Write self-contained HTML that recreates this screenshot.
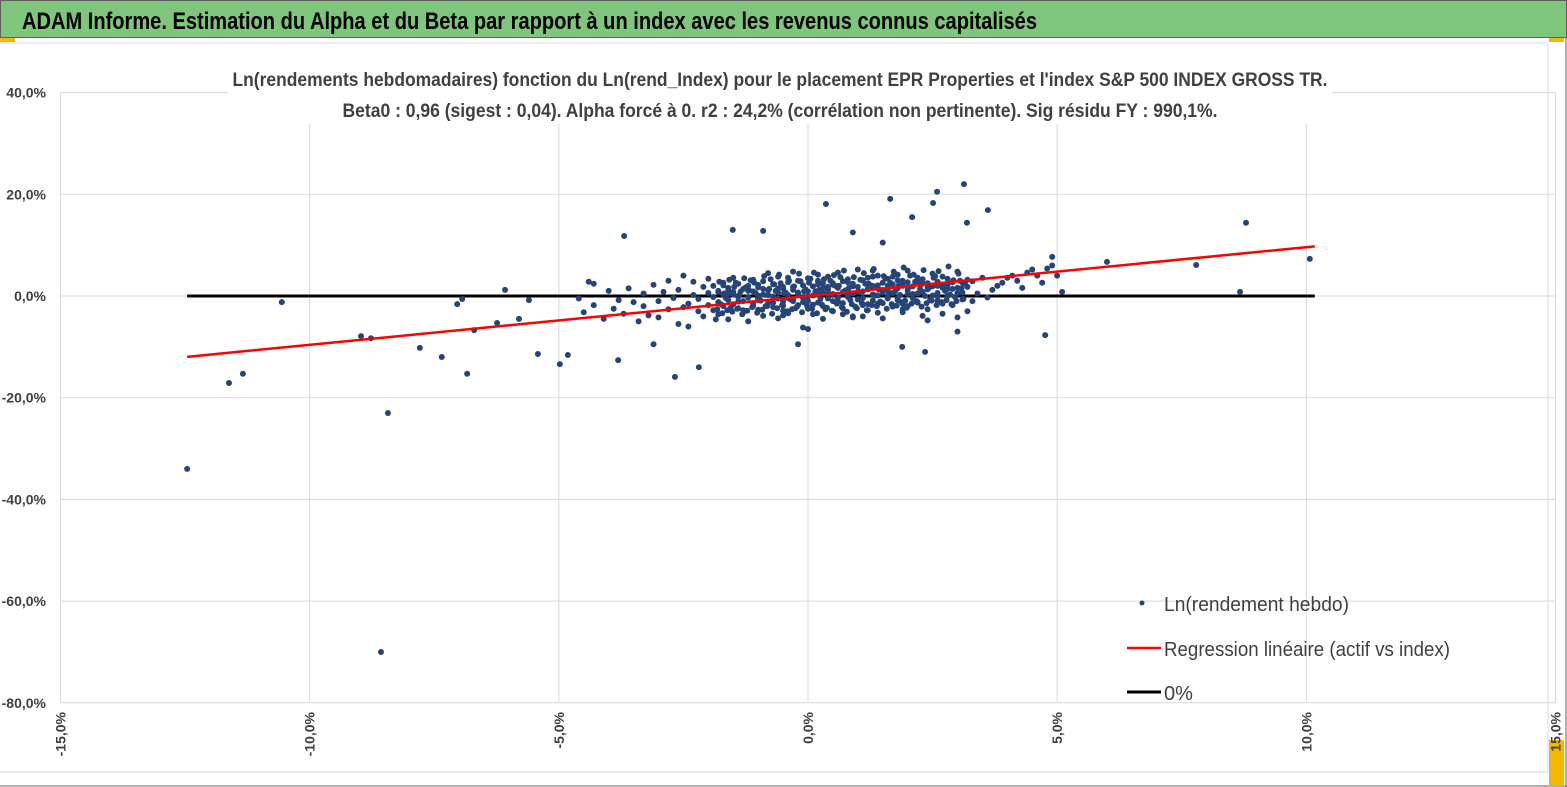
<!DOCTYPE html>
<html><head><meta charset="utf-8">
<style>
body{margin:0;background:#fff;}
svg{display:block;font-family:"Liberation Sans",sans-serif;}
</style></head>
<body>
<svg id="chart" width="1567" height="787" viewBox="0 0 1567 787">
<rect x="0" y="0" width="1567" height="787" fill="#fff"/>
<rect x="0.5" y="0.5" width="1566" height="37" fill="#7dc67b" stroke="#606060"/>
<text x="22" y="29" font-size="24" font-weight="bold" fill="#000" textLength="1015" lengthAdjust="spacingAndGlyphs">ADAM Informe. Estimation du Alpha et du Beta par rapport à un index avec les revenus connus capitalisés</text>
<rect x="0" y="38" width="15" height="4" fill="#f5b800"/>
<rect x="1549" y="38" width="15" height="4" fill="#f5b800"/>
<rect x="1549" y="740" width="15" height="45" fill="#f5b800"/>
<line x1="0" y1="786" x2="1567" y2="786" stroke="#606060"/>
<line x1="1566" y1="38" x2="1566" y2="787" stroke="#606060"/>
<line x1="0" y1="43" x2="1548" y2="43" stroke="#d9d9d9"/>
<line x1="1548" y1="43" x2="1548" y2="772" stroke="#d9d9d9"/>
<line x1="0" y1="772" x2="1548" y2="772" stroke="#d9d9d9"/>
<g id="grid"></g>
<rect x="228" y="66" width="1104" height="58" fill="#fff"/>
<text x="780" y="86" font-size="19" font-weight="bold" text-anchor="middle" fill="#404040" textLength="1095" lengthAdjust="spacingAndGlyphs">Ln(rendements hebdomadaires) fonction du Ln(rend_Index) pour le placement EPR Properties et l'index S&amp;P 500 INDEX GROSS TR.</text>
<text x="780" y="117" font-size="19" font-weight="bold" text-anchor="middle" fill="#404040" textLength="875" lengthAdjust="spacingAndGlyphs">Beta0 : 0,96 (sigest : 0,04). Alpha forcé à 0. r2 : 24,2% (corrélation non pertinente). Sig résidu FY : 990,1%.</text>
<g id="axes"></g>
<g id="series"></g>
<g>
<circle cx="1142" cy="603" r="2.5" fill="#264478"/>
<text x="1164" y="611" font-size="20" fill="#404040" textLength="185" lengthAdjust="spacingAndGlyphs">Ln(rendement hebdo)</text>
<line x1="1127" y1="648" x2="1161" y2="648" stroke="#ff0000" stroke-width="2.5"/>
<text x="1164" y="656" font-size="20" fill="#404040" textLength="286" lengthAdjust="spacingAndGlyphs">Regression linéaire (actif vs index)</text>
<line x1="1127" y1="692" x2="1161" y2="692" stroke="#000" stroke-width="3"/>
<text x="1164" y="700" font-size="20" fill="#404040">0%</text>
</g>
</svg>
<script>
const xTicks=[-15,-10,-5,0,5,10,15];
const yTicks=[40,20,0,-20,-40,-60,-80];
const beta=0.96;
const lineRange=[-12.46,10.17];
const outX=[-12.46,-11.62,-11.34,-10.56,-8.97,-8.77,-8.43,-8.57,-7.79,-7.35,-7.04,-6.94,-6.84,-6.70,-6.24,-6.08,-5.80,-5.42,-4.98,-4.82,-3.69,-3.81,-2.67,-2.19,-1.51,0.36,1.65,2.51,2.09,2.59,3.13,3.61,3.19,4.90,4.76,6.0,7.79,8.67,8.79,10.07,1.89,2.35,-0.9,-5.6,-4.4,-4.3,-3.1,-0.2,0.9,1.5];
const outY=[-34.0,-17.1,-15.3,-1.2,-7.9,-8.3,-23.0,-70.0,-10.2,-12.0,-1.6,-0.6,-15.3,-6.7,-5.3,1.2,-4.5,-11.4,-13.4,-11.6,11.8,-12.6,-15.9,-14.0,13.0,18.1,19.1,18.3,15.5,20.5,22.0,16.9,14.4,7.7,-7.7,6.7,6.1,0.8,14.4,7.3,-10,-11,12.8,-0.8,2.8,2.4,-9.5,-9.5,12.5,10.5];
const clX=[-4.6,-4.5,-4.3,-4.1,-4.0,-3.9,-3.8,-3.7,-3.6,-3.5,-3.4,-3.3,-3.3,-3.2,-3.1,-3.0,-3.0,-2.9,-2.8,-2.8,-2.7,-2.6,-2.6,-2.5,-2.5,-2.4,-2.4,-2.3,-2.3,-2.2,-2.2,-2.1,-2.1,-2.0,-2.0,-2.0,-1.9,-1.9,-1.9,-1.8,-1.8,-1.8,-1.7,-1.7,-1.7,-1.6,-1.6,-1.6,-1.5,-1.5,-1.5,-1.4,-1.4,-1.4,-1.3,-1.3,-1.3,-1.2,-1.2,-1.2,-1.1,-1.1,-1.1,-1.0,-1.0,-1.0,-0.9,-0.9,-0.9,-0.8,-0.8,-0.8,-0.7,-0.7,-0.7,-0.6,-0.6,-0.6,-0.5,-0.5,-0.5,-0.4,-0.4,-0.4,-0.3,-0.3,-0.3,-0.2,-0.2,-0.2,-0.1,-0.1,-0.1,0.0,0.0,0.0,0.1,0.1,0.1,0.2,0.2,0.2,0.3,0.3,0.3,0.4,0.4,0.4,0.5,0.5,0.5,0.6,0.6,0.6,0.7,0.7,0.7,0.8,0.8,0.8,0.9,0.9,0.9,1.0,1.0,1.0,1.1,1.1,1.1,1.2,1.2,1.2,1.3,1.3,1.3,1.4,1.4,1.4,1.5,1.5,1.5,1.6,1.6,1.6,1.7,1.7,1.7,1.8,1.8,1.8,1.9,1.9,1.9,2.0,2.0,2.0,2.1,2.1,2.2,2.2,2.3,2.3,2.4,2.4,2.5,2.5,2.6,2.6,2.7,2.7,2.8,2.8,2.9,2.9,3.0,3.0,3.1,3.1,3.2,3.2,3.3,3.3,3.4,3.5,3.6,3.7,3.8,3.9,4.0,4.1,4.2,4.3,4.4,4.5,4.6,4.7,4.8,4.9,5.0,5.1,-0.5,0.2,0.8,1.4,2.0,-1.0,0.5,1.1,1.7,2.4,-0.3,0.0,0.4,0.9,1.3,1.9,2.6,3.0];
const clY=[-0.5,-3.2,-1.8,-4.5,1.0,-2.5,-0.8,-3.5,1.5,-1.2,-5.0,-2.0,0.5,-3.8,2.2,-1.0,-4.2,0.8,-2.6,3.0,-0.4,-5.5,1.2,-2.2,4.0,-1.5,-6.0,0.2,2.8,-3.0,-0.6,1.8,-4.0,-1.8,0.6,3.4,-2.8,-0.2,2.0,-1.2,1.0,-3.6,0.4,-2.0,2.6,-0.8,1.6,-4.6,-1.6,0.8,3.6,-2.4,0.0,2.4,-1.0,1.4,-3.2,-0.3,2.0,-5.0,0.9,-1.9,3.2,-0.6,1.7,-2.7,0.3,-3.9,2.9,-1.4,1.1,4.5,-0.1,-2.2,2.3,0.7,-4.4,3.8,-1.1,1.5,-2.9,0.2,2.7,-3.4,-0.7,1.2,4.8,0.5,-1.8,3.0,-0.4,2.1,-6.2,0.9,-2.5,3.5,0.1,1.9,-3.6,1.0,-1.3,4.2,0.6,2.5,-2.0,1.3,-0.5,3.8,0.4,2.2,-3.0,1.6,-1.0,4.6,0.8,2.9,-2.4,1.1,-0.2,3.3,0.5,2.4,-4.2,1.8,-0.6,5.2,0.9,3.1,-1.6,1.4,-2.8,3.6,0.3,2.0,-0.9,1.7,4.0,-3.3,0.7,2.6,-1.4,1.2,3.4,-0.3,0.6,2.3,-2.1,1.5,4.2,-0.8,2.0,3.0,-1.5,0.4,2.7,5.0,-0.4,1.9,3.6,-1.2,0.8,2.4,-2.6,1.3,4.4,0.1,2.8,-0.9,1.6,3.8,0.0,2.2,-1.8,1.4,4.8,0.6,2.6,-0.7,3.2,1.8,-1.0,2.9,0.5,3.6,-0.3,1.2,2.0,2.6,3.6,4.0,3.0,1.6,4.6,5.2,4.0,2.6,5.4,6.0,4.0,0.8,1.8,3.0,0.2,-1.5,-2.0,-0.5,2.5,-1.8,3.8,-4.8,-1.0,-6.5,1.2,-4.0,5.0,-2.6,2.0,-7.0,-4.6];
const coreX=[-1.85,-1.8,-1.75,-1.7,-1.65,-1.6,-1.55,-1.5,-1.45,-1.4,-1.35,-1.3,-1.25,-1.2,-1.15,-1.1,-1.05,-1.0,-0.95,-0.9,-0.85,-0.8,-0.75,-0.7,-0.65,-0.6,-0.55,-0.5,-0.45,-0.4,-0.35,-0.3,-0.25,-0.2,-0.15,-0.1,-0.05,0.0,0.05,0.1,0.15,0.2,0.25,0.3,0.35,0.4,0.45,0.5,0.55,0.6,0.65,0.7,0.75,0.8,0.85,0.9,0.95,1.0,1.05,1.1,1.15,1.2,1.25,1.3,1.35,1.4,1.45,1.5,1.55,1.6,1.65,1.7,1.75,1.8,1.85,1.9,1.95,2.0,2.05,2.1,2.15,2.2,2.25,2.3,2.35,2.4,2.45,2.5,2.55,2.6,2.65,2.7,2.75,2.8,2.85,2.9,2.95,3.0,3.05,3.1,3.15,3.2,
-1.82,-1.72,-1.62,-1.52,-1.42,-1.32,-1.22,-1.12,-1.02,-0.92,-0.82,-0.72,-0.62,-0.52,-0.42,-0.32,-0.22,-0.12,-0.02,0.08,0.18,0.28,0.38,0.48,0.58,0.68,0.78,0.88,0.98,1.08,1.18,1.28,1.38,1.48,1.58,1.68,1.78,1.88,1.98,2.08,2.18,2.28,2.38,2.48,2.58,2.68,2.78,2.88,2.98,3.08,
-1.78,-1.68,-1.58,-1.48,-1.38,-1.28,-1.18,-1.08,-0.98,-0.88,-0.78,-0.68,-0.58,-0.48,-0.38,-0.28,-0.18,-0.08,0.02,0.12,0.22,0.32,0.42,0.52,0.62,0.72,0.82,0.92,1.02,1.12,1.22,1.32,1.42,1.52,1.62,1.72,1.82,1.92,2.02,2.12,2.22,2.32,2.42,2.52,2.62,2.72,2.82,2.92,3.02,3.12,
-1.6,-1.4,-1.2,-1.0,-0.8,-0.6,-0.4,-0.2,0.0,0.2,0.4,0.6,0.8,1.0,1.2,1.4,1.6,1.8,2.0,2.2,2.4,2.6,2.8,3.0,-0.5,0.3,0.7,1.1,1.5,1.9,2.3,2.7];
const coreY=[0.8,-1.6,2.1,-0.4,1.2,-2.3,0.3,2.6,-1.1,0.9,-2.8,1.7,-0.2,3.1,-1.5,0.6,2.2,-0.9,1.4,-2.0,0.2,3.3,-1.3,1.0,-0.5,2.5,-1.9,0.7,3.6,-0.7,1.8,-2.4,0.4,2.9,-1.2,1.3,-0.1,3.4,-1.7,0.9,2.3,-0.6,1.6,-2.6,0.5,3.0,-1.0,2.0,-0.3,3.7,-1.4,1.1,2.7,-0.8,1.9,-2.1,0.8,3.2,-0.4,2.4,-1.6,1.5,3.8,0.1,2.1,-1.1,1.2,3.5,-0.5,2.6,-1.8,0.9,3.1,0.2,2.3,-0.9,1.7,4.0,0.4,2.8,-1.3,1.4,3.3,0.0,2.5,-0.7,1.9,3.9,0.6,2.2,-1.5,1.0,3.4,0.3,2.7,-0.2,1.6,3.0,0.7,2.4,
-3.0,-2.6,-3.4,-2.8,-3.1,-2.5,-3.6,-2.9,-2.2,-3.3,-2.7,-2.0,-3.5,-2.4,-1.8,-3.0,-2.6,-2.1,-3.2,-1.9,-2.5,-3.4,-1.7,-2.3,-2.9,-1.5,-2.2,-3.1,-1.6,-2.4,-1.4,-2.8,-1.8,-2.0,-1.3,-2.5,-1.6,-1.9,-1.2,-2.3,-1.5,-1.0,-2.1,-1.4,-0.9,-1.8,-1.2,-0.8,-1.6,-1.0,
1.5,2.8,0.5,3.2,1.8,0.2,3.5,1.1,2.6,0.0,3.9,1.4,2.3,4.2,0.6,3.0,1.9,4.4,0.9,2.6,4.6,1.2,3.3,0.4,4.1,2.0,5.0,1.6,3.7,0.8,4.5,2.4,5.3,1.3,3.9,0.6,4.8,2.1,5.6,1.7,4.2,2.9,5.1,1.5,3.6,4.9,2.2,5.8,3.1,4.4,
-0.6,0.4,-0.2,1.0,-0.8,0.2,1.5,-0.4,0.7,-1.0,0.3,1.8,-0.3,0.9,-0.7,1.3,0.1,2.0,-0.5,1.1,0.5,1.7,-0.1,1.4,-4.2,-3.8,-4.5,-3.6,-4.0,-4.4,-3.2,-3.9,-3.5];
const X=v=>808+v*49.83, Y=v=>296-v*5.085;
const NS='http://www.w3.org/2000/svg';
function mk(tag,parent,attrs){const e=document.createElementNS(NS,tag);for(const k in attrs)e.setAttribute(k,attrs[k]);parent.appendChild(e);return e;}
const grid=document.getElementById('grid'),axes=document.getElementById('axes'),series=document.getElementById('series');
yTicks.forEach(t=>{
  const l=mk('line',grid,{x1:X(-15),x2:X(15),y1:Y(t),y2:Y(t),stroke:'#d9d9d9','stroke-width':1});
  
  
  const tx=mk('text',axes,{x:46,y:Y(t)+5,'font-size':14,'font-weight':'bold',fill:'#404040','text-anchor':'end'});
  tx.textContent=t.toFixed(1).replace('.',',')+'%';
  
  
});
xTicks.forEach(t=>{
  const l=mk('line',grid,{x1:X(t),x2:X(t),y1:Y(40),y2:Y(-80),stroke:'#d9d9d9','stroke-width':1});
  
  
  const tx=mk('text',axes,{x:0,y:0,'font-size':14,'font-weight':'bold','text-anchor':'end',fill:'#404040',transform:`translate(${X(t)+5},712) rotate(-90)`});
  tx.textContent=t.toFixed(1).replace('.',',')+'%';
  
  
});
const zl=mk('line',series,{x1:X(lineRange[0]),x2:X(lineRange[1]),y1:Y(0),y2:Y(0),stroke:'#000','stroke-width':3});


const allX=outX.concat(clX,coreX),allY=outY.concat(clY,coreY);
allX.forEach((x,i)=>{
  if(allY[i]===undefined)return;
  const c=mk('circle',series,{cx:X(x),cy:Y(allY[i]),r:3,fill:'#264478'});
  
  
});
const rl=mk('line',series,{x1:X(lineRange[0]),x2:X(lineRange[1]),y1:Y(beta*lineRange[0]),y2:Y(beta*lineRange[1]),stroke:'#ff0000','stroke-width':2.5});


</script>
</body></html>
